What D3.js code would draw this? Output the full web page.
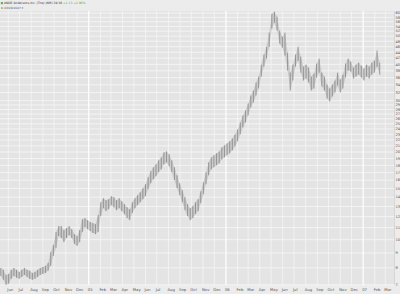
<!DOCTYPE html>
<html>
<head>
<meta charset="utf-8">
<script src="https://cdn.jsdelivr.net/npm/d3@7"></script>
<style>
  body { margin: 0; background: #ececec; }
  svg { display: block; font-family: "DejaVu Sans", sans-serif; }
</style>
</head>
<body>
<svg id="chart"></svg>
<script>
// weekly bars, first week starts 2004-05-10
const firstWeek = new Date(2004, 4, 10);
const weekHigh = [
  8.0, 7.88, 7.57, 7.63, 7.88, 8.0, 7.88, 7.75, 7.88, 8.0,
  7.88, 7.82, 7.69, 7.75, 7.88, 8.0, 8.06, 8.13, 8.32, 9.07,
  9.60, 10.62, 11.13, 11.13, 10.79, 10.96, 11.13, 10.87, 10.45, 10.29,
  10.79, 11.76, 11.86, 11.67, 11.49, 11.40, 11.31, 12.14, 13.44, 13.88,
  13.66, 13.77, 14.10, 13.99, 13.66, 13.88, 13.55, 13.24, 12.93, 12.73,
  13.44, 13.88, 14.21, 14.55, 15.02, 15.50, 16.38, 17.18, 17.72, 18.14,
  18.73, 19.17, 19.95, 20.10, 19.64, 18.73, 17.72, 16.64, 15.62, 14.78,
  13.99, 13.24, 12.83, 13.04, 13.44, 13.77, 14.66, 15.75, 17.04, 18.43,
  19.17, 19.48, 19.79, 20.10, 20.75, 21.08, 21.42, 21.76, 22.28, 22.99,
  23.91, 25.26, 26.70, 27.78, 29.35, 31.26, 32.52, 34.64, 36.31, 39.91,
  43.20, 46.0, 51.38, 59.68, 60.63, 58.29, 52.19, 49.79, 51.38, 43.88,
  37.47, 39.91, 43.20, 46.0, 42.52, 39.29, 39.91, 38.98, 36.31, 37.17,
  40.23, 41.85, 37.47, 36.31, 34.10, 33.04, 34.10, 35.19, 37.47, 35.47,
  36.89, 40.23, 41.85, 40.88, 38.98, 39.91, 40.55, 39.60, 38.67, 39.91,
  39.29, 40.55, 41.20, 44.58, 40.55
];
const weekLow = [
  7.51, 7.28, 7.00, 7.06, 7.34, 7.51, 7.40, 7.34, 7.45, 7.57,
  7.45, 7.34, 7.28, 7.34, 7.45, 7.57, 7.63, 7.69, 7.82, 8.13,
  8.79, 9.37, 10.29, 10.13, 9.81, 10.13, 10.37, 10.13, 9.67, 9.52,
  9.81, 10.62, 11.04, 10.87, 10.70, 10.54, 10.45, 10.62, 12.05, 12.83,
  12.53, 12.73, 13.14, 12.93, 12.63, 12.83, 12.53, 12.24, 11.86, 11.67,
  12.34, 12.83, 13.14, 13.44, 13.77, 14.10, 14.90, 15.62, 16.13, 16.51,
  17.04, 17.45, 18.14, 18.43, 17.86, 17.04, 16.0, 15.02, 14.21, 13.44,
  12.63, 12.05, 11.67, 11.86, 12.24, 12.53, 13.34, 14.32, 15.50, 16.64,
  17.45, 17.72, 18.0, 18.28, 18.88, 19.17, 19.48, 19.79, 20.26, 20.91,
  21.76, 22.99, 24.29, 25.26, 26.70, 28.44, 29.58, 31.26, 33.04, 36.31,
  39.29, 41.85, 45.88, 53.02, 55.60, 52.19, 47.11, 45.64, 42.86, 38.07,
  32.52, 35.19, 39.29, 41.20, 37.47, 35.19, 35.75, 34.64, 32.52, 33.04,
  36.03, 37.47, 33.57, 32.52, 30.53, 29.82, 31.01, 32.01, 33.83, 32.01,
  33.04, 36.03, 38.07, 37.76, 35.75, 36.31, 36.89, 36.03, 35.19, 36.31,
  35.75, 36.89, 37.47, 39.29, 36.89
];
const priceTicks = [7, 8, 9, 10, 11, 12, 13, 14, 15, 16, 17, 18, 19, 20, 21, 22, 23, 24,
  25, 26, 27, 28, 29, 30, 32, 34, 36, 38, 40, 42, 44, 46, 48, 50, 52, 54, 56, 58, 60];
const monthNames = ["Jan", "Feb", "Mar", "Apr", "May", "Jun", "Jul", "Aug", "Sep", "Oct", "Nov", "Dec"];

const width = 400, height = 294;
const plot = { left: 0, right: 394, top: 11, bottom: 285 };

const svg = d3.select("#chart").attr("width", width).attr("height", height);

const bars = weekHigh.map((h, i) => ({
  date: d3.timeDay.offset(firstWeek, i * 7 + 2),
  high: h,
  low: weekLow[i]
}));

const x = d3.scaleTime()
  .domain([firstWeek, new Date(2007, 2, 24)])
  .range([plot.left, plot.right]);
const y = d3.scaleLog()
  .domain([7.1, 60.5])
  .range([plot.bottom - 2, plot.top + 1]);

svg.append("rect").attr("width", width).attr("height", height).attr("fill", "#ececec");
svg.append("rect")
  .attr("x", plot.left).attr("y", plot.top)
  .attr("width", plot.right - plot.left).attr("height", plot.bottom - plot.top)
  .attr("fill", "#e4e4e4");

const grid = svg.append("g").attr("stroke", "#f7f7f7").attr("stroke-width", 0.8);
grid.selectAll("line.h")
  .data(priceTicks.filter(v => y(v) > plot.top && y(v) < plot.bottom))
  .enter().append("line")
  .attr("x1", plot.left).attr("x2", plot.right)
  .attr("y1", d => y(d)).attr("y2", d => y(d));

const months = d3.timeMonth.range(new Date(2004, 5, 1), new Date(2007, 2, 2));
grid.selectAll("line.v")
  .data(months)
  .enter().append("line")
  .attr("x1", d => x(d)).attr("x2", d => x(d))
  .attr("y1", plot.top).attr("y2", plot.bottom)
  .attr("stroke", d => d.getMonth() == 0 ? "#ffffff" : "#f5f5f5")
  .attr("stroke-width", d => d.getMonth() == 0 ? 1.2 : 0.8);

// light price band + weekly high/low bars
svg.append("path")
  .datum(bars)
  .attr("fill", "#9a9a9a")
  .attr("fill-opacity", 0.35)
  .attr("d", d3.area()
    .x(d => x(d.date))
    .y0(d => y(d.low))
    .y1(d => y(d.high)));

svg.append("g")
  .attr("stroke", "#6e6e6e")
  .attr("stroke-width", 0.6)
  .selectAll("line")
  .data(bars)
  .enter().append("line")
  .attr("x1", d => x(d.date)).attr("x2", d => x(d.date))
  .attr("y1", d => y(d.high)).attr("y2", d => y(d.low));

// right price axis
svg.append("line")
  .attr("x1", plot.right + 0.5).attr("x2", plot.right + 0.5)
  .attr("y1", plot.top).attr("y2", plot.bottom)
  .attr("stroke", "#c8c8c8").attr("stroke-width", 0.6);
svg.append("g")
  .attr("font-size", 3.6)
  .attr("fill", "#555")
  .selectAll("text")
  .data(priceTicks.filter(v => y(v) > plot.top && y(v) < plot.bottom + 2))
  .enter().append("text")
  .attr("x", plot.right + 1.5)
  .attr("y", d => y(d))
  .attr("dy", "0.35em")
  .text(d => d);

// bottom month axis
svg.append("g")
  .attr("font-size", 3.8)
  .attr("fill", "#555")
  .selectAll("text")
  .data(months)
  .enter().append("text")
  .attr("x", d => x(d) - 1)
  .attr("y", 291)
  .text(d => d.getMonth() == 0 ? d3.timeFormat("%y")(d) : monthNames[d.getMonth()]);

// header
svg.append("rect").attr("x", 0.8).attr("y", 2).attr("width", 2.2).attr("height", 2.2).attr("fill", "#5bb55b");
const title = svg.append("text").attr("x", 4).attr("y", 4.3).attr("font-size", 3.0).attr("fill", "#333");
title.append("tspan").text("ANDE Andersons Inc. (The) (NM)  39.36  ");
title.append("tspan").attr("fill", "#3cb43c").text("+1.13 +2.96%");
svg.append("text").attr("x", 1).attr("y", 8.8).attr("font-size", 2.9).attr("fill", "#555")
  .text("D  03/09/2007 ▾");
</script>
</body>
</html>
